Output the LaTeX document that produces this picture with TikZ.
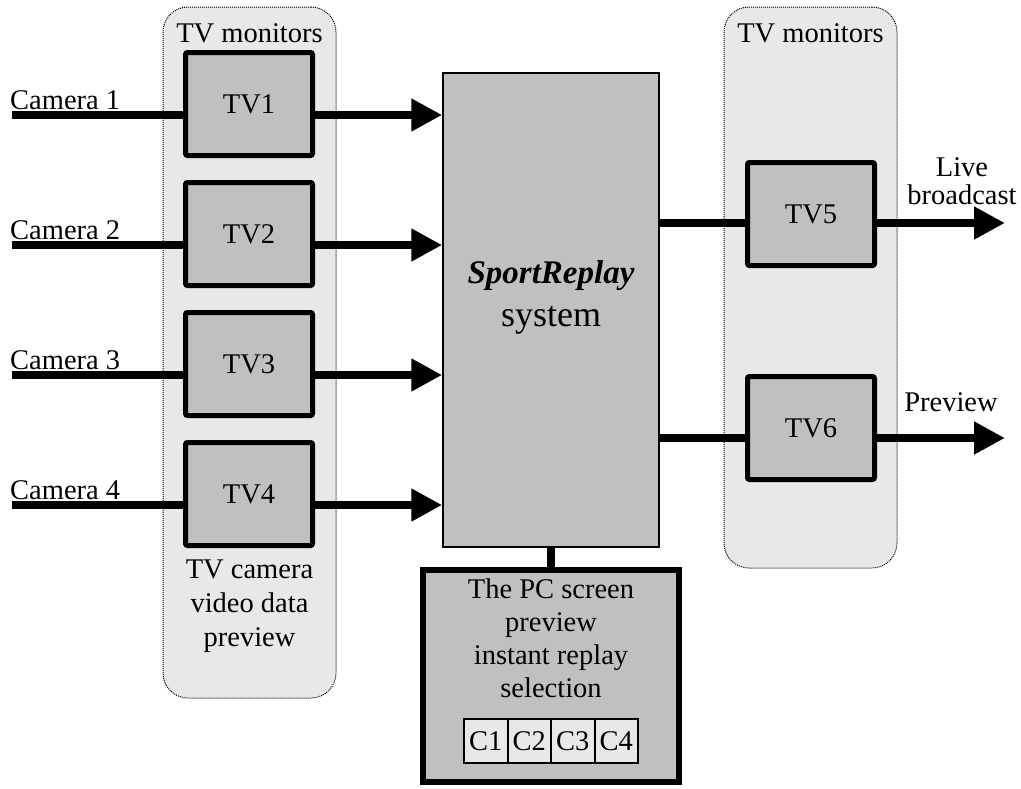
\documentclass[tikz,border=0pt]{standalone}
\usepackage{fontspec}
\setmainfont{Liberation Serif}
\usepackage{xcolor}
\usepackage{tikz}
\usetikzlibrary{arrows.meta,positioning,calc}

\definecolor{tvgray}{RGB}{192,192,192}
\definecolor{grpgray}{RGB}{232,232,232}

\begin{document}
\begin{tikzpicture}[
    x=1pt, y=-1pt,
    grp/.style={rectangle, draw, densely dotted, line width=1pt, fill=grpgray,
                rounded corners=25pt, minimum width=173pt, inner sep=0pt},
    tv/.style={rectangle, draw, line width=5pt, fill=tvgray, rounded corners=2pt,
               minimum width=127pt, minimum height=103pt, inner sep=0pt, font=\fontsize{28.5}{33}\selectfont},
    cell/.style={rectangle, draw, line width=2pt, fill=grpgray,
                 minimum width=43.5pt, minimum height=44pt, inner sep=0pt, font=\fontsize{28.5}{33}\selectfont},
    txt/.style={align=center, inner sep=0pt, font=\fontsize{28.5}{33}\selectfont},
    wire/.style={line width=8pt},
    arr/.style={line width=8pt, -{Triangle[length=31pt, width=31pt]}},
  ]
  \useasboundingbox (0,0) rectangle (1021,788);

  % Monitor groups
  \node[grp, minimum height=691pt] (grpin) at (249.5, 352.5) {};
  \node[grp, minimum height=561pt] (grpout) at (810.5, 287.5) {};
  \node[txt] (monin) at (249.5, 33) {TV monitors};
  \node[txt] (monout) at (810.5, 33) {TV monitors};
  \node[txt, font=\fontsize{28.5}{34}\selectfont] (prevlbl) at (249.5, 606) {TV camera\\video data\\preview};

  % Main system
  \node[rectangle, draw, line width=1.5pt, fill=tvgray,
        minimum width=216pt, minimum height=474pt] (sys) at (551, 310) {};
  \node[align=center, inner sep=0pt, font=\fontsize{36}{43}\selectfont] (syslbl) at (551, 297)
    {{\fontsize{33}{43}\selectfont\bfseries\itshape SportReplay}\\system};

  % PC screen
  \node[rectangle, draw, line width=6pt, fill=tvgray,
        minimum width=256pt, minimum height=212pt] (pc) at (551, 676) {};
  \node[txt] (pclbl) at (551, 638) {The PC screen\\preview\\instant replay\\selection};
  \foreach \i in {1,...,4}
    \node[cell] (c\i) at ({442.25+\i*43.5}, 741) {C\i};

  % Cameras and TV1..TV4
  \foreach \i/\yc in {1/104, 2/234, 3/364, 4/494} {
    \node[tv] (tv\i) at (249, \yc) {TV\i};
    \coordinate (cam\i) at (12, \yc+11);
    \node[txt, anchor=west] (camlbl\i) at (10, \yc-4) {Camera \i};
    \draw[wire] (cam\i) -- (cam\i -| tv\i.west);
    \draw[arr] (cam\i -| tv\i.east) -- (cam\i -| sys.west);
  }

  % Outputs
  \node[tv] (tv5) at (811, 214) {TV5};
  \node[tv] (tv6) at (811, 428) {TV6};
  \coordinate (out5) at (1005, 223);
  \coordinate (out6) at (1005, 438);

  \draw[wire] (out5 -| sys.east) -- (out5 -| tv5.west);
  \draw[arr] (out5 -| tv5.east) -- (out5);
  \draw[wire] (out6 -| sys.east) -- (out6 -| tv6.west);
  \draw[arr] (out6 -| tv6.east) -- (out6);

  \draw[wire] (sys.south) -- (pc.north);

  % Labels
  \node[txt, font=\fontsize{28.5}{28}\selectfont] (livelbl) at (962, 181) {Live\\broadcast};
  \node[txt] (prevout) at (951, 402) {Preview};

\end{tikzpicture}
\end{document}
